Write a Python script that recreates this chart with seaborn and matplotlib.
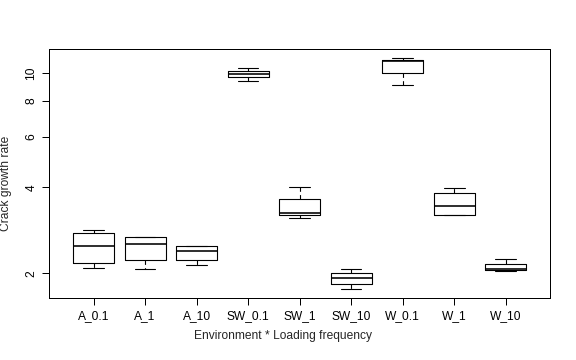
import numpy as np
import pandas as pd
import matplotlib
matplotlib.use("Agg")
import matplotlib.pyplot as plt
import seaborn as sns
from matplotlib.ticker import FixedLocator, FixedFormatter, NullLocator

# five-number summaries (log y axis)
groups = ['A_0.1', 'A_1', 'A_10', 'SW_0.1', 'SW_1', 'SW_10', 'W_0.1', 'W_1', 'W_10']
lows = [2.083, 2.065, 2.133, 9.38, 3.114, 1.758, 9.11, 3.19, 2.04]
q1s = [2.168, 2.221, 2.221, 9.69, 3.19, 1.83, 10.01, 3.19, 2.049]
medians = [2.486, 2.526, 2.388, 9.93, 3.242, 1.921, 11.05, 3.439, 2.065]
q3s = [2.76, 2.673, 2.486, 10.17, 3.628, 2.0, 11.11, 3.808, 2.15]
highs = [2.827, 2.686, 2.486, 10.42, 4.006, 2.065, 11.29, 3.975, 2.239]

yticks = [2, 4, 6, 8, 10]

# build a long table: 5 points per group gives exact quartiles
rows = []
for g, lo, a, m, b, hi in zip(groups, lows, q1s, medians, q3s, highs):
    for v in (lo, a, m, b, hi):
        rows.append({"group": g, "rate": v})
df = pd.DataFrame(rows)

sns.set_style("white")
plt.rcParams['font.family'] = ['Liberation Sans', 'DejaVu Sans']

fig = plt.figure(figsize=(8, 5), dpi=72)
ax = fig.add_axes([0.0856, 0.1722, 0.8693, 0.6908])

sns.boxplot(data=df, x="group", y="rate", order=groups, fill=False,
            color="black", linecolor="black", width=0.8, whis=(0, 100),
            log_scale=True, linewidth=1.1,
            whiskerprops=dict(linestyle=(0, (4, 3))),
            medianprops=dict(linewidth=1.6),
            ax=ax)

ax.set_xlim(-0.86, 8.86)
ax.set_ylim(1.639, 12.14)
ax.yaxis.set_major_locator(FixedLocator(yticks))
ax.yaxis.set_major_formatter(FixedFormatter([str(t) for t in yticks]))
ax.yaxis.set_minor_locator(NullLocator())

ax.tick_params(axis='both', direction='out', length=7, width=1, color='black',
               labelsize=12, labelcolor='black', pad=5, left=True, bottom=True)
ax.tick_params(axis='y', labelrotation=90)
plt.setp(ax.get_yticklabels(), va='center')

for s in ax.spines.values():
    s.set_color('black')
    s.set_linewidth(1)

ax.set_xlabel('')
ax.set_ylabel('')
fig.text(283 / 576, 1 - 336 / 360, "Environment * Loading frequency",
         ha='center', va='center', fontsize=12)
fig.text(6.5 / 576, 1 - 183.5 / 360, "Crack growth rate", rotation=90,
         ha='center', va='center', fontsize=12)

fig.savefig('out.png', dpi=72)
